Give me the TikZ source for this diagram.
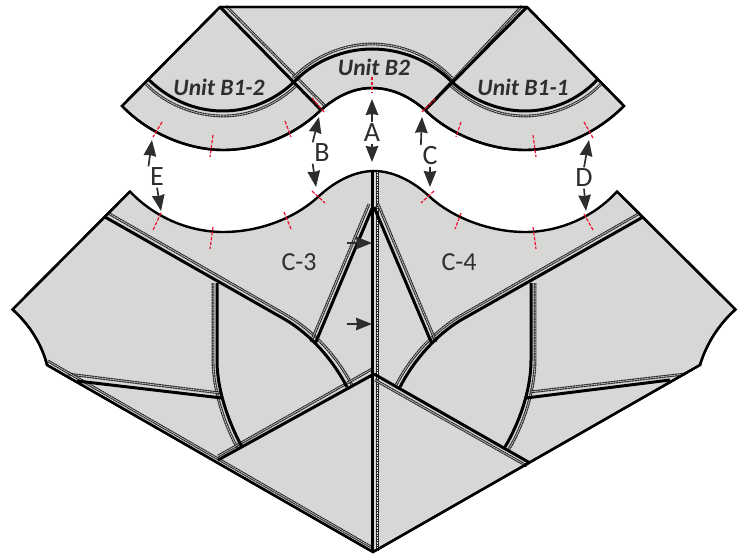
\documentclass[tikz,border=0pt]{standalone}
\usepackage{fontspec}
\setmainfont{Carlito}
\usetikzlibrary{arrows.meta}
\definecolor{cloth}{HTML}{D7D8D6}
\definecolor{inkt}{HTML}{2E2E2E}
\definecolor{seamc}{HTML}{262626}
\definecolor{tick}{HTML}{F01030}
\tikzset{
  x=1pt,y=-1pt,
  piece/.style={fill=cloth,draw=black,line width=2.4pt,line join=miter},
  fold/.style={draw=black,line width=3pt},
  seam/.style={draw=seamc,line width=2.8pt,dash pattern=on 2.2pt off .5pt,
    postaction={draw=cloth,line width=.5pt,solid}},
  seamwhite/.style={draw=seamc,line width=3.2pt,
    postaction={draw=white,line width=1pt,dash pattern=on 1.5pt off 1pt}},
  redmark/.style={draw=tick,line width=1.2pt,dash pattern=on 3.5pt off 1.5pt},
  pointer/.style={draw=inkt,line width=1.7pt,-{Stealth[length=16pt,width=12.5pt,inset=1pt]}},
  letter/.style={text=inkt,font=\fontsize{28}{28}\selectfont,inner sep=1.5pt},
  unitname/.style={text=inkt,font=\fontsize{23.5}{23.5}\selectfont\bfseries\itshape,inner sep=0pt},
  piecename/.style={text=inkt,font=\fontsize{26}{26}\selectfont,inner sep=0pt},
}
\begin{document}
\begin{tikzpicture}
\useasboundingbox (0,0) rectangle (744,556);
% top unit
\path[piece] (220,7) -- (527,7) -- (624,106)
  .. controls (597,133) and (560,150) .. (525,150)
  .. controls (490,150) and (450,135) .. (425,110)
  .. controls (408,95) and (390,88) .. (372,88)
  .. controls (355,88) and (338,95) .. (321,110)
  .. controls (295,135) and (260,150) .. (223,150)
  .. controls (190,150) and (150,135) .. (122,106) -- cycle;
% seams of the top unit
\path[seam] (226,6) -- (325,106);
\path[seam] (522,6) -- (429,106);
\path[seam] (146,84) .. controls (165,104) and (195,116) .. (223,116) .. controls (252,116) and (276,104) .. (296,86);
\path[seam] (601,84) .. controls (582,104) and (552,116) .. (525,116) .. controls (496,116) and (472,104) .. (451,86);
\path[seam] (293,78) .. controls (315,55) and (345,44) .. (372,44) .. controls (400,44) and (430,55) .. (452,78);
\path[fold] (220,7) -- (321,110);
\path[fold] (527,7) -- (425,110);
\path[fold] (149,80) .. controls (170,100) and (195,111) .. (223,111) .. controls (250,111) and (275,100) .. (294,82);
\path[fold] (597,80) .. controls (578,100) and (552,111) .. (525,111) .. controls (498,111) and (472,100) .. (452,82);
\path[fold] (294,82) .. controls (315,60) and (345,49) .. (372,49) .. controls (400,49) and (430,60) .. (452,82);
% lower unit
\path[piece] (130,191.5)
  .. controls (155,218) and (190,232) .. (223,232)
  .. controls (260,232) and (295,218) .. (318,197)
  .. controls (335,181) and (355,171) .. (374,171)
  .. controls (393,171) and (413,181) .. (430,197)
  .. controls (453,218) and (490,232) .. (525,232)
  .. controls (558,232) and (593,218) .. (617,191.5)
  -- (735.5,309.5) .. controls (718,325) and (706,345) .. (700,365)
  -- (373,552) -- (47,365)
  .. controls (42,345) and (30,325) .. (12.5,309.5) -- cycle;
% seams of the lower unit
\path[seam] (108,213) -- (288,316) .. controls (315,332) and (338,358) .. (352,385);
\path[seam] (640,213) -- (460,316) .. controls (433,332) and (410,358) .. (396,385);
\path[seamwhite] (377.5,172) -- (377.5,551);
\path[seam] (213,283) -- (213,360) .. controls (213,392) and (226,428) .. (238,449);
\path[seam] (535,283) -- (535,360) .. controls (535,392) and (522,428) .. (509,449);
\path[seam] (311,342) -- (369,204);
\path[seam] (436,342) -- (378,204);
\path[seam] (68,374) -- (220,393);
\path[seam] (530,392) -- (685,374);
\path[seam] (218,456) -- (372,369);
\path[seam] (375,380) -- (527,466);
\path[seam] (48,361) -- (373,548);
\path[fold] (105,217) -- (286,320) .. controls (311,335) and (333,360) .. (347,387);
\path[fold] (643,217) -- (461,320) .. controls (436,335) and (414,360) .. (400,387);
\path[fold] (372.7,170) -- (372.7,552);
\path[fold] (217,283) -- (217,360) .. controls (217,392) and (230,425) .. (242,447);
\path[fold] (531,283) -- (531,360) .. controls (531,392) and (518,425) .. (505,447);
\path[fold] (315,344) -- (372.7,207);
\path[fold] (432,344) -- (374,207);
\path[fold] (77,381) -- (222,398);
\path[fold] (526,398) -- (670,380);
\path[fold] (218,460) -- (374,374);
\path[fold] (374,374) -- (530,463);
% outer edge over the seam ends
\path[draw=black,line width=2.4pt,line join=miter] (220,7) -- (527,7) -- (624,106)
  .. controls (597,133) and (560,150) .. (525,150)
  .. controls (490,150) and (450,135) .. (425,110)
  .. controls (408,95) and (390,88) .. (372,88)
  .. controls (355,88) and (338,95) .. (321,110)
  .. controls (295,135) and (260,150) .. (223,150)
  .. controls (190,150) and (150,135) .. (122,106) -- cycle;
\path[draw=black,line width=2.4pt,line join=miter] (617,191.5) -- (735.5,309.5) .. controls (718,325) and (706,345) .. (700,365)
  -- (373,552) -- (47,365) .. controls (42,345) and (30,325) .. (12.5,309.5) -- (130,191.5);
% red notches
\path[redmark] (162,122) -- (153,137);
\path[redmark] (213,135) -- (210,157);
\path[redmark] (285,121) -- (291,137);
\path[redmark] (312,98) -- (324,112);
\path[redmark] (372,77) -- (372,93);
\path[redmark] (435,99) -- (422,112);
\path[redmark] (461,122) -- (456,137);
\path[redmark] (533,135) -- (536,157);
\path[redmark] (584,122) -- (593,138);
\path[redmark] (161,213) -- (153,230);
\path[redmark] (213,227) -- (210,249);
\path[redmark] (284,212) -- (291,229);
\path[redmark] (312,191) -- (325,203);
\path[redmark] (434,191) -- (421,203);
\path[redmark] (461,213) -- (455,229);
\path[redmark] (533,227) -- (536,249);
\path[redmark] (584,214) -- (593,230);
% labels
\node[unitname] (u12) at (219,87) {Unit B1-2};
\node[unitname] (u2) at (374,67) {Unit B2};
\node[unitname] (u11) at (523,87) {Unit B1-1};
\node[piecename] (c3) at (299,262) {C-3};
\node[piecename] (c4) at (459,262) {C-4};
\node[letter] (la) at (372,133) {A};
\node[letter] (lb) at (322,153) {B};
\node[letter] (lc) at (430,156) {C};
\node[letter] (ld) at (584,178) {D};
\node[letter] (le) at (157,177) {E};
% pointers
\coordinate (ta) at (372,99);  \coordinate (ba) at (372,162);
\coordinate (tb) at (319,117); \coordinate (bb) at (316,187);
\coordinate (tc) at (422,117); \coordinate (bc) at (430,187);
\coordinate (td) at (589,140); \coordinate (bd) at (586,211);
\coordinate (te) at (152,140); \coordinate (be) at (161,211);
\draw[pointer] (la.north) -- (ta);
\draw[pointer] (la.south) -- (ba);
\draw[pointer] (lb.north west) -- (tb);
\draw[pointer] (lb.south west) -- (bb);
\draw[pointer] (lc.north west) -- (tc);
\draw[pointer] (lc.south) -- (bc);
\draw[pointer] (ld.north) -- (td);
\draw[pointer] (ld.south) -- (bd);
\draw[pointer] (le.north west) -- (te);
\draw[pointer] (le.south) -- (be);
\coordinate (s1) at (347,243); \coordinate (e1) at (372,243);
\coordinate (s2) at (347,324); \coordinate (e2) at (372,324);
\draw[pointer] (s1) -- (e1);
\draw[pointer] (s2) -- (e2);
\end{tikzpicture}
\end{document}
